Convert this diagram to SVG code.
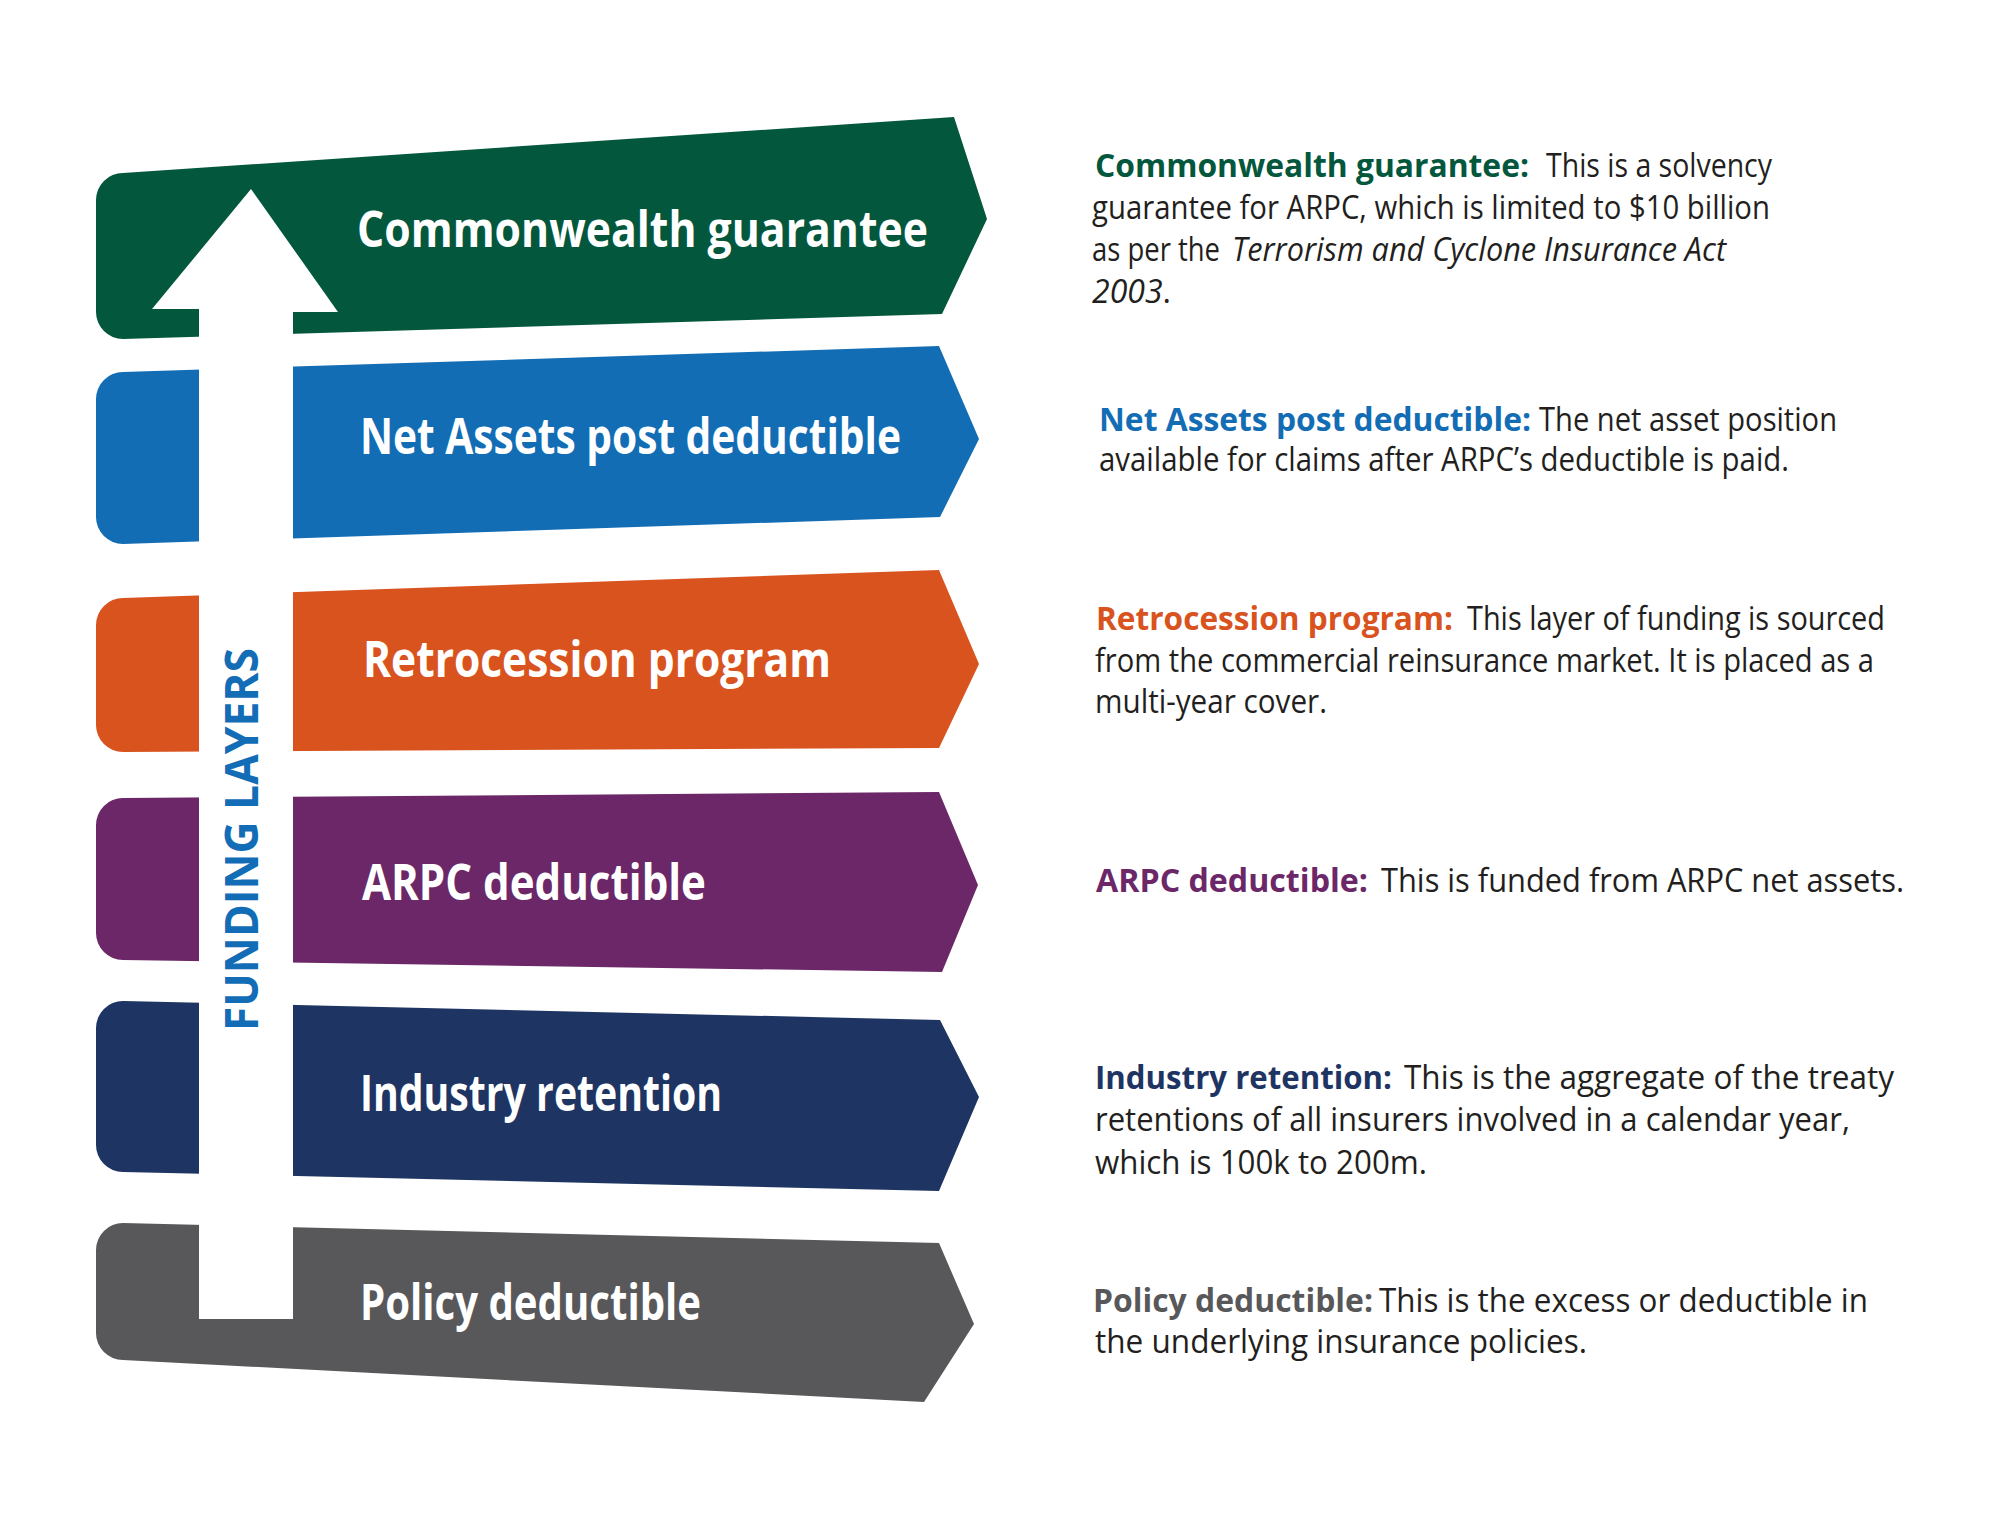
<svg xmlns="http://www.w3.org/2000/svg" width="2000" height="1518" viewBox="0 0 2000 1518">
<style>
.band-label{font-family:"Open Sans","Liberation Sans",sans-serif;font-weight:700;font-size:50px;fill:#ffffff}
.d{font-family:"Open Sans","Liberation Sans",sans-serif;font-size:32px;fill:#231f20}
.dl{font-family:"Open Sans","Liberation Sans",sans-serif;font-size:32px;font-weight:700}
.it{font-style:italic}
.vert{font-family:"Open Sans","Liberation Sans",sans-serif;font-weight:700;font-size:46px;fill:#136db6}
</style>
<rect width="2000" height="1518" fill="#ffffff"/>

<g id="band-commonwealth">
<path d="M123,173 L954,117 L987,219 L942,314 L123,339 A27,27 0 0 1 96,312 L96,200 A27,27 0 0 1 123,173 Z" fill="#03573d"/>
<text class="band-label" x="357" y="247" textLength="571" lengthAdjust="spacingAndGlyphs">Commonwealth guarantee</text>
</g>
<g id="band-netassets">
<path d="M123,372 L939,346 L979,439 L940,517 L123,544 A27,27 0 0 1 96,517 L96,399 A27,27 0 0 1 123,372 Z" fill="#126db5"/>
<text class="band-label" x="360" y="454" textLength="541" lengthAdjust="spacingAndGlyphs">Net Assets post deductible</text>
</g>
<g id="band-retrocession">
<path d="M123,598 L939,570 L979,664 L939,748 L123,752 A27,27 0 0 1 96,725 L96,625 A27,27 0 0 1 123,598 Z" fill="#d9531f"/>
<text class="band-label" x="363" y="677" textLength="468" lengthAdjust="spacingAndGlyphs">Retrocession program</text>
</g>
<g id="band-arpc">
<path d="M123,798 L939,792 L978,885 L942,972 L123,960 A27,27 0 0 1 96,933 L96,825 A27,27 0 0 1 123,798 Z" fill="#6b2767"/>
<text class="band-label" x="362" y="900" textLength="344" lengthAdjust="spacingAndGlyphs">ARPC deductible</text>
</g>
<g id="band-industry">
<path d="M123,1001 L940,1020 L979,1097 L939,1191 L123,1172 A27,27 0 0 1 96,1145 L96,1028 A27,27 0 0 1 123,1001 Z" fill="#1e3462"/>
<text class="band-label" x="360" y="1111" textLength="362" lengthAdjust="spacingAndGlyphs">Industry retention</text>
</g>
<g id="band-policy">
<path d="M123,1223 L939,1243 L974,1324 L924,1402 L123,1360 A27,27 0 0 1 96,1333 L96,1250 A27,27 0 0 1 123,1223 Z" fill="#58585a"/>
<text class="band-label" x="360" y="1320" textLength="341" lengthAdjust="spacingAndGlyphs">Policy deductible</text>
</g>

<g id="funding-arrow">
<polygon points="251,189 338,312 293,312 293,1319 199,1319 199,309 152,309" fill="#ffffff"/>
<text class="vert" transform="translate(258,1031) rotate(-90)" x="0" y="0" textLength="383" lengthAdjust="spacingAndGlyphs">FUNDING LAYERS</text>
</g>

<g id="connectors"></g>

<g id="desc-commonwealth">
<text class="dl" x="1095" y="177" fill="#03573d" textLength="434" lengthAdjust="spacingAndGlyphs">Commonwealth guarantee:</text>
<text class="d" x="1546" y="177" textLength="226" lengthAdjust="spacingAndGlyphs">This is a solvency</text>
<text class="d" x="1092" y="219" textLength="678" lengthAdjust="spacingAndGlyphs">guarantee for ARPC, which is limited to $10 billion</text>
<text class="d" x="1092" y="261" textLength="128" lengthAdjust="spacingAndGlyphs">as per the</text>
<text class="d it" x="1232" y="261" textLength="494" lengthAdjust="spacingAndGlyphs">Terrorism and Cyclone Insurance Act</text>
<text class="d" x="1092" y="303"><tspan class="it">2003</tspan>.</text>
</g>
<g id="desc-netassets">
<text class="dl" x="1099" y="431" fill="#136db5" textLength="432" lengthAdjust="spacingAndGlyphs">Net Assets post deductible:</text>
<text class="d" x="1539" y="431" textLength="298" lengthAdjust="spacingAndGlyphs">The net asset position</text>
<text class="d" x="1099" y="471" textLength="690" lengthAdjust="spacingAndGlyphs">available for claims after ARPC’s deductible is paid.</text>
</g>
<g id="desc-retrocession">
<text class="dl" x="1096" y="630" fill="#d9531f" textLength="357" lengthAdjust="spacingAndGlyphs">Retrocession program:</text>
<text class="d" x="1467" y="630" textLength="418" lengthAdjust="spacingAndGlyphs">This layer of funding is sourced</text>
<text class="d" x="1095" y="672" textLength="779" lengthAdjust="spacingAndGlyphs">from the commercial reinsurance market. It is placed as a</text>
<text class="d" x="1095" y="713" textLength="232" lengthAdjust="spacingAndGlyphs">multi-year cover.</text>
</g>
<g id="desc-arpc">
<text class="dl" x="1096" y="892" fill="#6b2767" textLength="272" lengthAdjust="spacingAndGlyphs">ARPC deductible:</text>
<text class="d" x="1381" y="892" textLength="523" lengthAdjust="spacingAndGlyphs">This is funded from ARPC net assets.</text>
</g>
<g id="desc-industry">
<text class="dl" x="1095" y="1089" fill="#1e3462" textLength="297" lengthAdjust="spacingAndGlyphs">Industry retention:</text>
<text class="d" x="1404" y="1089" textLength="490" lengthAdjust="spacingAndGlyphs">This is the aggregate of the treaty</text>
<text class="d" x="1095" y="1131" textLength="755" lengthAdjust="spacingAndGlyphs">retentions of all insurers involved in a calendar year,</text>
<text class="d" x="1095" y="1174" textLength="332" lengthAdjust="spacingAndGlyphs">which is 100k to 200m.</text>
</g>
<g id="desc-policy">
<text class="dl" x="1093" y="1312" fill="#58585a" textLength="280" lengthAdjust="spacingAndGlyphs">Policy deductible:</text>
<text class="d" x="1379" y="1312" textLength="489" lengthAdjust="spacingAndGlyphs">This is the excess or deductible in</text>
<text class="d" x="1095" y="1353" textLength="492" lengthAdjust="spacingAndGlyphs">the underlying insurance policies.</text>
</g>
</svg>
